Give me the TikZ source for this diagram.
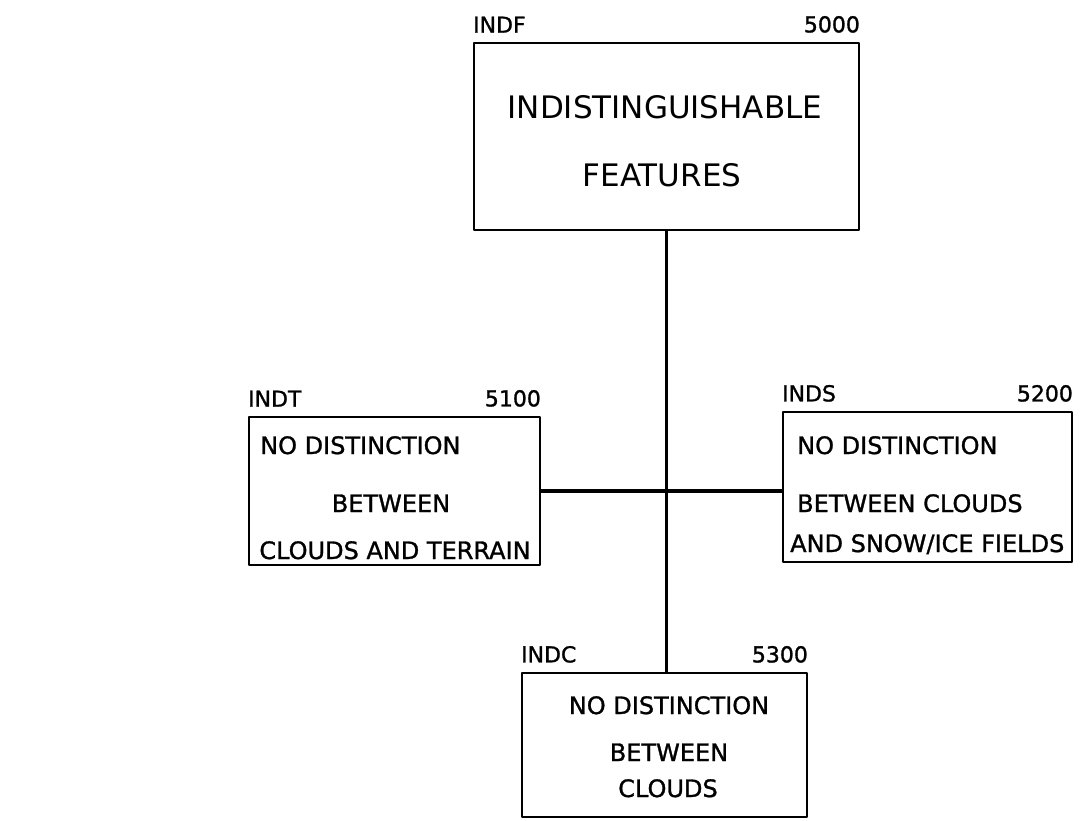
\documentclass[tikz,border=0pt]{standalone}
\usepackage{fontspec}
\setmainfont{DejaVu Sans}[BoldFont={DejaVu Sans},BoldFeatures={FakeBold=1.2}]
\usetikzlibrary{positioning,calc}

\begin{document}
\begin{tikzpicture}[
			x=1pt,
			y=-1pt,
			line cap=round,
			line join=round,
			box/.style={draw, line width=2.2pt, inner sep=0pt},
			tag/.style={inner sep=0pt, font=\fontsize{22}{22}\selectfont\bfseries},
			boxtext/.style={inner sep=0pt, font=\fontsize{24}{24}\selectfont\bfseries},
			bigtext/.style={inner sep=0pt, font=\fontsize{31}{31}\selectfont},
			link/.style={line width=3.8pt}
			]
			
			\useasboundingbox (0,0) rectangle (1089,820);
			
			%------------------------------
			% The four boxes
			%------------------------------
			\node[box, minimum width=385, minimum height=187] (indf) at (666.5,136.5) {};
			\node[box, minimum width=291, minimum height=148] (indt) at (394.5,491) {};
			\node[box, minimum width=289, minimum height=150] (inds) at (927.5,487) {};
			\node[box, minimum width=285, minimum height=144] (indc) at (664.5,745) {};
			
			% Code and number over each box
			\foreach \b/\code/\num in {indf/INDF/5000,indt/INDT/5100,inds/INDS/5200,indc/INDC/5300}{
				\node[tag, anchor=south west] (\b-code) at ([yshift=9pt]\b.north west) {\code};
				\node[tag, anchor=south east] (\b-num) at ([yshift=9pt]\b.north east) {\num};
			}
			
			%------------------------------
			% Texts in the boxes
			%------------------------------
			\node[bigtext, anchor=base] (indf-1) at (665,118) {INDISTINGUISHABLE};
			\node[bigtext, anchor=base] (indf-2) at (662,186) {FEATURES};
			
			\node[boxtext, anchor=base west] (indt-1) at (260,454) {NO DISTINCTION};
			\node[boxtext, anchor=base] (indt-2) at (391,512) {BETWEEN};
			\node[boxtext, anchor=base] (indt-3) at (395,559) {CLOUDS AND TERRAIN};
			
			\node[boxtext, anchor=base west] (inds-1) at (797,454) {NO DISTINCTION};
			\node[boxtext, anchor=base west] (inds-2) at (797,512) {BETWEEN CLOUDS};
			\node[boxtext, anchor=base west] (inds-3) at (790,552) {AND SNOW/ICE FIELDS};
			
			\node[boxtext, anchor=base] (indc-1) at (669,714) {NO DISTINCTION};
			\node[boxtext, anchor=base] (indc-2) at (669,761) {BETWEEN};
			\node[boxtext, anchor=base] (indc-3) at (668,797) {CLOUDS};
			
			%------------------------------
			% Connectors
			%------------------------------
			\draw[link] (indf.south) -- (indf.south |- indc.north);
			\draw[link] (indt.east) -- (indt.east -| inds.west);
		\end{tikzpicture}
\end{document}
